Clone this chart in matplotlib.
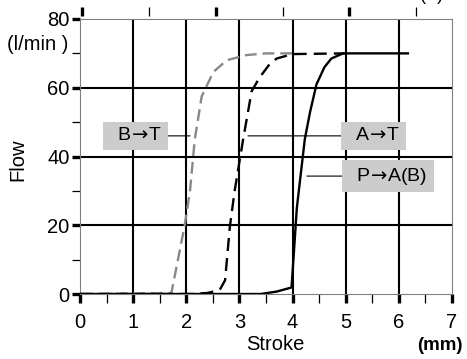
import matplotlib
matplotlib.use("Agg")
import matplotlib.pyplot as plt
from matplotlib.ticker import MultipleLocator, FixedLocator

plt.rcParams['font.family'] = ['Liberation Sans', 'DejaVu Sans']
plt.rcParams['mathtext.fontset'] = 'dejavusans'

# stroke (mm) / flow (l/min)
bt_x = [0, 1.72, 1.97, 2.07, 2.16, 2.29, 2.51, 2.76, 3.13, 3.50, 4.00]
bt_y = [0, 0.3, 20, 30, 45, 57.5, 64.6, 68, 69.5, 70, 70]

at_x = [0, 2.10, 2.40, 2.63, 2.73, 2.82, 2.91, 3.07, 3.23, 3.38, 3.55, 3.70, 4.00, 5.00]
at_y = [0, 0, 0.3, 1.2, 4, 19.6, 30, 45, 59, 63, 66.5, 68.5, 69.8, 70]

pa_x = [0, 3.40, 3.70, 3.98, 4.02, 4.08, 4.14, 4.23, 4.33, 4.45, 4.60, 4.73, 4.95, 6.17]
pa_y = [0, 0, 0.7, 1.9, 11, 25, 33, 45, 53, 61, 66, 68.5, 70, 70]

arrow = '$\\!\\rightarrow\\!$'
edge = '$\\,$ '
labels = [edge + 'B' + arrow + 'T ' + edge.strip(),
          edge + 'A' + arrow + 'T ' + edge.strip(),
          edge + 'P' + arrow + 'A(B) ' + edge.strip()]
top_major = [0.04, 2.55, 5.06]
top_minor = [1.30, 3.82, 6.33]

fig = plt.figure(figsize=(4.67, 3.59), dpi=100)
ax = fig.add_axes([80 / 467, 1 - 294 / 359, 372 / 467, 275 / 359])

ax.set_xlim(0, 7)
ax.set_ylim(0, 80)

# grid
for gx in range(1, 7):
    ax.axvline(gx, color='black', lw=1.5, zorder=1)
for gy in (20, 40, 60):
    ax.axhline(gy, color='black', lw=1.5, zorder=1)

ax.plot(bt_x, bt_y, color='#888888', lw=1.7, dashes=(5, 2.5), zorder=3)
ax.plot(at_x, at_y, color='black', lw=1.7, dashes=(5.5, 3), zorder=3)
ax.plot(pa_x, pa_y, color='black', lw=1.7, zorder=3)

for s in ax.spines.values():
    s.set_color('#808080')
    s.set_linewidth(0.8)

ax.xaxis.set_major_locator(MultipleLocator(1))
ax.xaxis.set_minor_locator(MultipleLocator(0.5))
ax.yaxis.set_major_locator(MultipleLocator(20))
ax.yaxis.set_minor_locator(MultipleLocator(10))
ax.tick_params(which='major', direction='out', length=6.5, width=2.4, color='black',
               labelsize=14.5)
ax.tick_params(which='minor', direction='out', length=6.5, width=0.9, color='black')
ax.tick_params(axis='x', which='major', pad=7)
ax.tick_params(axis='y', which='major', pad=1.5, length=6)
ax.tick_params(axis='y', which='minor', length=6)

# top auxiliary scale (labels cut off in the reference)
ax2 = ax.twiny()
ax2.set_xlim(0, 7)
ax2.xaxis.set_major_locator(FixedLocator(top_major))
ax2.xaxis.set_minor_locator(FixedLocator(top_minor))
ax2.spines['top'].set_position(('outward', 2))
for s in ax2.spines.values():
    s.set_visible(False)
ax2.tick_params(which='major', direction='out', length=6.5, width=2.4, labeltop=False)
ax2.tick_params(which='minor', direction='out', length=6.5, width=0.9)
fig.text(432 / 467, 1 - 4 / 359, '(A)', fontsize=13, ha='center', va='bottom')

# callout labels
box = dict(boxstyle='square,pad=0.3', fc='#cccccc', ec='none')
line = dict(arrowstyle='-', color='black', lw=0.8, shrinkA=0, shrinkB=0)
ax.annotate(labels[0], xy=(2.07, 46), xytext=(1.04, 46), fontsize=14,
            ha='center', va='center', bbox=box, arrowprops=line)
ax.annotate(labels[1], xy=(3.16, 46), xytext=(5.52, 46), fontsize=14,
            ha='center', va='center', bbox=box, arrowprops=line)
ax.annotate(labels[2], xy=(4.27, 34.3), xytext=(5.80, 34.3), fontsize=14,
            ha='center', va='center', bbox=box, arrowprops=line)

fig.text(18 / 467, 1 - 160 / 359, 'Flow', rotation=90, fontsize=14.5, ha='center', va='center')
fig.text(38 / 467, 1 - 45 / 359, '(l/min )', fontsize=14.5, ha='center', va='center')
fig.text(275 / 467, 1 - 345 / 359, 'Stroke', fontsize=14.5, ha='center', va='center')
fig.text(440 / 467, 1 - 345 / 359, '(mm)', fontsize=13.5, fontweight='bold',
         ha='center', va='center')

fig.savefig('out.png', dpi=100)
